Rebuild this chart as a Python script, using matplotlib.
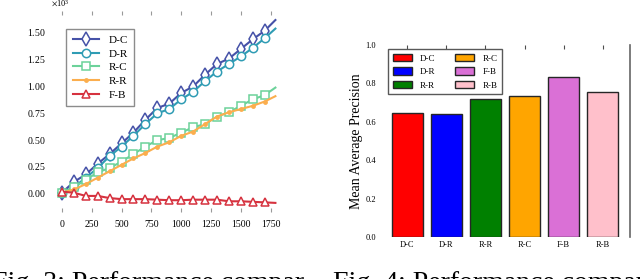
import numpy as np
import matplotlib
matplotlib.use("Agg")
import matplotlib.pyplot as plt
from matplotlib.ticker import MultipleLocator

plt.rcParams['font.family'] = ['Liberation Serif', 'DejaVu Serif']
plt.rcParams['mathtext.fontset'] = 'stix'

# left chart: cumulative values per step
steps = [0, 100, 200, 300, 400, 500, 600, 700, 800, 900, 1000,
         1100, 1200, 1300, 1400, 1500, 1600, 1700, 1790]
dc = [0, 100, 170, 270, 360, 460, 560, 680, 790, 830, 930,
      990, 1100, 1200, 1250, 1340, 1430, 1510, 1610]
dr = [0, 50, 140, 230, 340, 430, 530, 640, 740, 780, 870,
      940, 1040, 1130, 1200, 1270, 1350, 1440, 1530]
rc = [0, 50, 120, 190, 230, 290, 360, 430, 490, 510, 560,
      610, 640, 710, 750, 810, 870, 910, 980]
rr = [0, 30, 80, 140, 200, 260, 320, 370, 430, 470, 530,
      570, 640, 710, 750, 780, 810, 850, 900]
fb = [10, 0, -30, -30, -50, -60, -60, -60, -65, -70, -70,
      -65, -65, -65, -80, -80, -85, -90, -95]

# right chart: mean average precision
bar_names = ['D-C', 'D-R', 'R-R', 'R-C', 'F-B', 'R-B']
bar_vals = [0.643, 0.640, 0.720, 0.736, 0.831, 0.757]
bar_cols = ['red', 'blue', 'green', 'orange', 'orchid', 'pink']

fig = plt.figure(figsize=(6.4, 2.79), dpi=100)

# ---- left
ax1 = fig.add_axes([0.08, 0.24, 0.367, 0.721])
mk = list(range(len(steps) - 1))
ax1.plot(steps, dc, color='#4652a8', marker='d', ms=7, mfc='white', mew=1.1,
         lw=1.5, markevery=mk, label='D-C')
ax1.plot(steps, dr, color='#2f9cb4', marker='o', ms=6, mfc='white', mew=1.1,
         lw=1.5, markevery=mk, label='D-R')
ax1.plot(steps, rc, color='#6cd29a', marker='s', ms=6, mfc='white', mew=1.1,
         lw=1.5, markevery=mk, label='R-C')
ax1.plot(steps, rr, color='#fbae4e', marker='o', ms=3.5, mew=0,
         lw=1.5, markevery=mk, label='R-R')
ax1.plot(steps, fb, color='#d6323f', marker='^', ms=6, mfc='white', mew=1.1,
         lw=1.5, markevery=mk, label='F-B')

ax1.xaxis.set_major_locator(MultipleLocator(250))
ax1.yaxis.set_major_locator(MultipleLocator(250))
ax1.ticklabel_format(axis='y', style='sci', scilimits=(3, 3), useMathText=True)
ax1.yaxis.get_offset_text().set_fontsize(6)
for s in ax1.spines.values():
    s.set_visible(False)
ax1.tick_params(axis='y', length=0, labelsize=7, pad=4)
ax1.tick_params(axis='x', top=True, bottom=True, direction='in', length=3,
                color='0.6', labelsize=7, pad=6)
ax1.legend(loc='upper left', bbox_to_anchor=(0.04, 0.94), fontsize=8,
           fancybox=False, edgecolor='0.55', framealpha=1, handlelength=2.4,
           borderpad=0.6, labelspacing=0.35)

# ---- right
ax2 = fig.add_axes([0.594, 0.1505, 0.39, 0.6885])
x = np.arange(len(bar_names))
for i in range(len(bar_names)):
    ax2.bar(x[i], bar_vals[i], width=0.8, color=bar_cols[i],
            edgecolor='0.15', lw=1, label=bar_names[i])
ax2.set_ylim(0, 1.0)
ax2.set_xticks(x)
ax2.set_xticklabels(bar_names)
ax2.set_yticks([0.0, 0.2, 0.4, 0.6, 0.8, 1.0])
ax2.set_ylabel('Mean Average Precision', fontsize=10, labelpad=2)
for k in ['left', 'top', 'bottom']:
    ax2.spines[k].set_visible(False)
ax2.spines['right'].set_color('0.4')
ax2.spines['right'].set_linewidth(1.2)
ax2.tick_params(axis='y', length=0, labelsize=6, pad=3)
ax2.tick_params(axis='x', top=True, bottom=False, direction='in', length=3,
                color='0.3', labelsize=6, pad=3)
ax2.legend(loc='upper left', bbox_to_anchor=(0.015, 1.0), ncol=2, fontsize=6.5,
           fancybox=False, edgecolor='0.35', framealpha=1, handlelength=2.1,
           handleheight=0.9, handletextpad=0.9, borderpad=0.5,
           labelspacing=0.5, columnspacing=2.2)

# captions (cut off at bottom of the image)
fig.text(-0.0125, -0.04, 'Fig. 3: Performance compar', fontsize=20,
         ha='left', va='baseline')
fig.text(0.52, -0.04, 'Fig. 4: Performance compar', fontsize=20,
         ha='left', va='baseline')

fig.savefig('out.png', dpi=100)
